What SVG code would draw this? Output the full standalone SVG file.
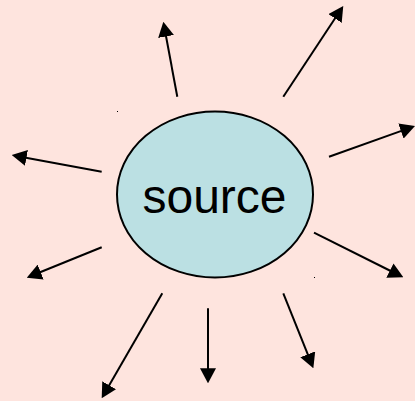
<svg xmlns="http://www.w3.org/2000/svg" width="415" height="401" viewBox="0 0 415 401">
<defs>
<style>
.bg{fill:#fee4de}
.node{fill:#bbe0e3;stroke:#000;stroke-width:2}
.lbl{font-family:"Liberation Sans",Arial,sans-serif;font-size:48px;fill:#000;text-anchor:middle}
.arr{stroke:#000;stroke-width:2;fill:none;marker-end:url(#ah)}
</style>
<marker id="ah" viewBox="0 0 15 16" refX="2" refY="8" markerWidth="15" markerHeight="16" markerUnits="userSpaceOnUse" orient="auto">
<path d="M0,0 L15,8 L0,16 z" fill="#000"/>
</marker>
</defs>
<rect class="bg" x="0" y="0" width="415" height="401"/>
<g id="source">
<ellipse class="node" cx="215" cy="194.5" rx="98" ry="83"/>
<text class="lbl" x="214.5" y="213">source</text>
</g>
<g id="connectors">
<line class="arr" x1="177.3" y1="96.7" x2="165.7" y2="34.5"/>
<line class="arr" x1="283.3" y1="96.7" x2="336.1" y2="16.8"/>
<line class="arr" x1="329" y1="156.7" x2="402.8" y2="130.4"/>
<line class="arr" x1="101.7" y1="171.7" x2="24.5" y2="157.4"/>
<line class="arr" x1="101.7" y1="247.3" x2="38.8" y2="272.8"/>
<line class="arr" x1="314" y1="232.7" x2="391.7" y2="271.5"/>
<line class="arr" x1="162.3" y1="293.3" x2="108.2" y2="387"/>
<line class="arr" x1="208" y1="308.3" x2="208" y2="370.3"/>
<line class="arr" x1="283.3" y1="293.3" x2="308.5" y2="356.2"/>
</g>
<rect x="117" y="111" width="1" height="1" fill="#000"/>
<rect x="314" y="277" width="1" height="1" fill="#000"/>
</svg>
